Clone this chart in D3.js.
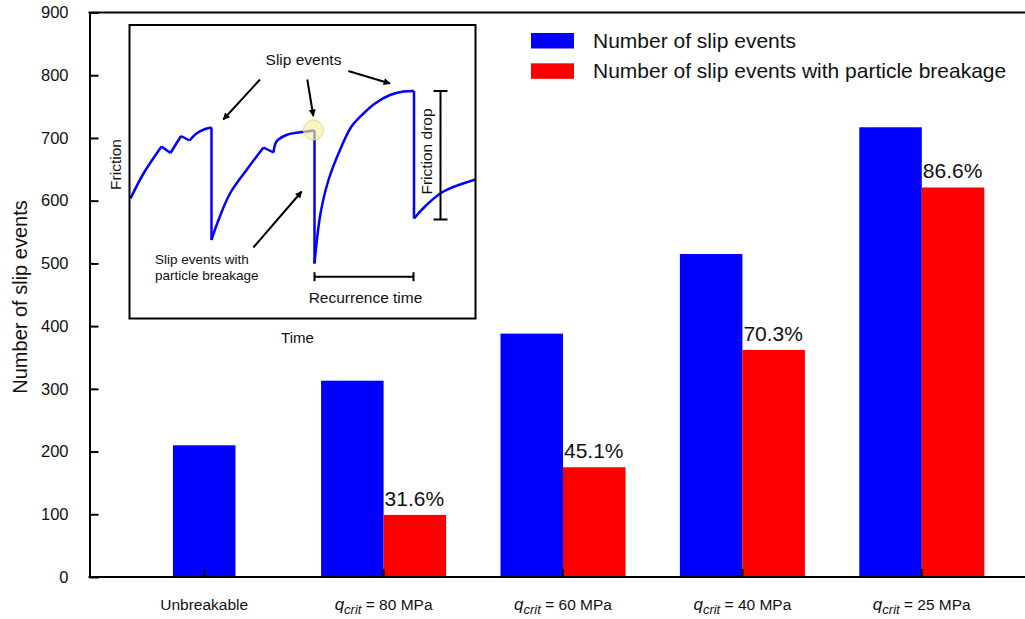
<!DOCTYPE html>
<html>
<head>
<meta charset="utf-8">
<script src="https://cdn.jsdelivr.net/npm/d3@7"></script>
<style>
  body { margin: 0; background: #fff; }
  svg { font-family: 'Liberation Sans', Arial, sans-serif; }
  text { fill: #111; }
</style>
</head>
<body>
<div id="chart"></div>
<script>
// categories + values
var categories = ['Unbreakable', '80', '60', '40', '25']
var slipEvents = [210, 313, 388, 515, 717]
var breakageEvents = [null, 99, 175, 362, 621]
var percentLabels = [null, '31.6%', '45.1%', '70.3%', '86.6%']
var yTicks = [0, 100, 200, 300, 400, 500, 600, 700, 800, 900]

// inset schematic (time, friction) in arbitrary units
var risePieces = [
  [[1, 120], [14, 145], [32, 172]],
  [[41, 165.5], [51.5, 182.5]],
  [[60, 178], [67, 185], [74.5, 189], [82, 191]],
  [[82, 78.5], [89, 98.5], [100.5, 125], [117, 148.5], [134, 171]],
  [[144, 166], [147, 177], [157, 183.5], [177, 187], [185, 188]],
  [[185, 55], [191, 105], [199, 138.5], [212, 172], [222, 192], [234, 205], [245.5, 215], [260.5, 223.5], [274, 227], [284.5, 227.5]],
  [[284.5, 100], [297, 113.5], [314, 127], [346, 139]]
]
var highlight = [184, 188.5]
var arrows = [
  [[130.5, 239], [93.8, 199]],
  [[177.8, 239], [183.8, 202.5]],
  [[218.8, 247.5], [260.5, 235]],
  [[123.8, 71], [172.2, 127]]
]
var frictionDrop = [311, 99, 227.5]      // t, fLow, fHigh
var recurrence = [41.8, 185, 284]        // f, tStart, tEnd

var svgWidth = 1025
var svgHeight = 619

var svg = d3.select('#chart')
  .append('svg')
  .attr('width', svgWidth)
  .attr('height', svgHeight)

// main scales
var axisLeftX = 89.5
var x = d3.scaleBand()
  .domain(categories)
  .range([114.5, 1011.5])
  .padding(0)

var y = d3.scaleLinear()
  .domain([0, 900])
  .range([577, 12.5])

var barWidth = 62.5

// blue bars
svg.append('g')
  .selectAll('rect')
  .data(categories)
  .enter()
  .append('rect')
  .attr('x', (d, i) => {
    var c = x(d) + x.bandwidth() / 2
    return breakageEvents[i] === null ? c - barWidth / 2 : c - barWidth
  })
  .attr('y', (d, i) => y(slipEvents[i]))
  .attr('width', barWidth)
  .attr('height', (d, i) => y(0) - y(slipEvents[i]))
  .attr('fill', '#0000ff')

// red bars
var redIdx = d3.range(categories.length).filter(i => breakageEvents[i] !== null)
svg.append('g')
  .selectAll('rect')
  .data(redIdx)
  .enter()
  .append('rect')
  .attr('x', i => x(categories[i]) + x.bandwidth() / 2)
  .attr('y', i => y(breakageEvents[i]))
  .attr('width', barWidth)
  .attr('height', i => y(0) - y(breakageEvents[i]))
  .attr('fill', '#ff0000')

// percentage labels
svg.append('g')
  .selectAll('text')
  .data(redIdx)
  .enter()
  .append('text')
  .attr('x', i => x(categories[i]) + x.bandwidth() / 2 + 1)
  .attr('y', i => y(breakageEvents[i]) - 9)
  .attr('font-size', '21px')
  .text(i => percentLabels[i])

// y axis
var yAxis = svg.append('g')
  .attr('transform', `translate(${axisLeftX},0)`)
  .call(d3.axisLeft(y).tickValues(yTicks).tickSizeInner(-9).tickSizeOuter(0).tickPadding(21))
yAxis.select('.domain').attr('stroke', '#000').attr('stroke-width', 2)
yAxis.selectAll('.tick line').attr('stroke', '#000').attr('stroke-width', 2)
yAxis.selectAll('.tick text')
  .attr('font-size', '16.5px')
  .attr('font-family', "'Liberation Sans', Arial, sans-serif")
  .attr('fill', '#111')

// x axis ticks (inward), labels drawn separately
var xAxis = svg.append('g')
  .attr('transform', `translate(0,${y(0)})`)
  .call(d3.axisBottom(x).tickSizeInner(-8).tickSizeOuter(0).tickFormat(''))
xAxis.select('.domain').remove()
xAxis.selectAll('.tick line').attr('stroke', '#000').attr('stroke-width', 2)

// frame lines: bottom and top
svg.append('line')
  .attr('x1', axisLeftX - 1).attr('x2', svgWidth)
  .attr('y1', y(0)).attr('y2', y(0))
  .attr('stroke', '#000').attr('stroke-width', 2)
svg.append('line')
  .attr('x1', axisLeftX - 1).attr('x2', svgWidth)
  .attr('y1', y(900)).attr('y2', y(900))
  .attr('stroke', '#000').attr('stroke-width', 2)

// x category labels
var xLabels = svg.append('g')
  .selectAll('text')
  .data(categories)
  .enter()
  .append('text')
  .attr('x', d => x(d) + x.bandwidth() / 2)
  .attr('y', 609.5)
  .attr('text-anchor', 'middle')
  .attr('font-size', '15.5px')
xLabels.each(function (d, i) {
  var t = d3.select(this)
  if (i === 0) {
    t.text(d)
    return
  }
  t.append('tspan').attr('font-style', 'italic').attr('font-size', '17px').text('q')
  t.append('tspan').attr('font-style', 'italic').attr('font-size', '13px').attr('dy', 4).text('crit')
  t.append('tspan').attr('dy', -4).text(` = ${d} MPa`)
})

// y axis title
svg.append('text')
  .attr('transform', 'translate(27,297) rotate(-90)')
  .attr('text-anchor', 'middle')
  .attr('font-size', '20px')
  .text('Number of slip events')

// legend
var legendItems = [
  { label: 'Number of slip events', color: '#0000ff' },
  { label: 'Number of slip events with particle breakage', color: '#ff0000' }
]
var legend = svg.append('g')
  .selectAll('g')
  .data(legendItems)
  .enter()
  .append('g')
  .attr('transform', (d, i) => `translate(531,${33 + i * 30.3})`)
legend.append('rect')
  .attr('width', 43)
  .attr('height', 15.5)
  .attr('fill', d => d.color)
legend.append('text')
  .attr('x', 62)
  .attr('y', 15)
  .attr('font-size', '21px')
  .text(d => d.label)

// ---- inset schematic ----
var box = { left: 129.5, top: 25, right: 475.5, bottom: 318.5 }
var tx = d3.scaleLinear().domain([0, 346]).range([box.left, box.right])
var fy = d3.scaleLinear().domain([0, 293.5]).range([box.bottom, box.top])

var defs = svg.append('defs')
defs.append('clipPath').attr('id', 'insetClip')
  .append('rect')
  .attr('x', box.left).attr('y', box.top)
  .attr('width', box.right - box.left).attr('height', box.bottom - box.top)
defs.append('marker')
  .attr('id', 'arrowHead')
  .attr('viewBox', '0 0 10 10')
  .attr('refX', 9).attr('refY', 5)
  .attr('markerWidth', 8).attr('markerHeight', 7)
  .attr('markerUnits', 'userSpaceOnUse')
  .attr('orient', 'auto')
  .append('path')
  .attr('d', 'M0,0 L10,5 L0,10 Z')
  .attr('fill', '#000')

var inset = svg.append('g')
inset.append('rect')
  .attr('x', box.left).attr('y', box.top)
  .attr('width', box.right - box.left).attr('height', box.bottom - box.top)
  .attr('fill', '#fff')

var curve = d3.line()
  .x(d => tx(d[0]))
  .y(d => fy(d[1]))
  .curve(d3.curveCatmullRom.alpha(0.5))
var straight = d3.line()
  .x(d => tx(d[0]))
  .y(d => fy(d[1]))

var traceG = inset.append('g').attr('clip-path', 'url(#insetClip)')
traceG.selectAll('path.rise')
  .data(risePieces)
  .enter()
  .append('path')
  .attr('class', 'rise')
  .attr('d', d => curve(d))
  .attr('fill', 'none')
  .attr('stroke', '#0000ff')
  .attr('stroke-width', 2.5)
// connecting drops between pieces
traceG.selectAll('path.drop')
  .data(risePieces.slice(1))
  .enter()
  .append('path')
  .attr('class', 'drop')
  .attr('d', (d, i) => straight([risePieces[i][risePieces[i].length - 1], d[0]]))
  .attr('fill', 'none')
  .attr('stroke', '#0000ff')
  .attr('stroke-width', 2.5)

inset.append('circle')
  .attr('cx', tx(highlight[0]))
  .attr('cy', fy(highlight[1]))
  .attr('r', 10)
  .attr('fill', '#f7ef9a')
  .attr('fill-opacity', 0.65)
  .attr('stroke', '#e6dc8c')
  .attr('stroke-width', 1)

inset.selectAll('path.arrow')
  .data(arrows)
  .enter()
  .append('path')
  .attr('class', 'arrow')
  .attr('d', d => straight(d))
  .attr('stroke', '#000')
  .attr('stroke-width', 2)
  .attr('marker-end', 'url(#arrowHead)')

// friction drop bar
var fd = inset.append('g').attr('stroke', '#000').attr('stroke-width', 2)
fd.append('line')
  .attr('x1', tx(frictionDrop[0])).attr('x2', tx(frictionDrop[0]))
  .attr('y1', fy(frictionDrop[1])).attr('y2', fy(frictionDrop[2]))
fd.selectAll('line.cap')
  .data([frictionDrop[1], frictionDrop[2]])
  .enter()
  .append('line')
  .attr('class', 'cap')
  .attr('x1', tx(frictionDrop[0]) - 7).attr('x2', tx(frictionDrop[0]) + 7)
  .attr('y1', d => fy(d)).attr('y2', d => fy(d))

// recurrence time bar
var rt = inset.append('g').attr('stroke', '#000').attr('stroke-width', 2)
rt.append('line')
  .attr('x1', tx(recurrence[1])).attr('x2', tx(recurrence[2]))
  .attr('y1', fy(recurrence[0])).attr('y2', fy(recurrence[0]))
rt.selectAll('line.cap')
  .data([recurrence[1], recurrence[2]])
  .enter()
  .append('line')
  .attr('class', 'cap')
  .attr('x1', d => tx(d)).attr('x2', d => tx(d))
  .attr('y1', fy(recurrence[0]) - 4.5).attr('y2', fy(recurrence[0]) + 4.5)

inset.append('rect')
  .attr('x', box.left).attr('y', box.top)
  .attr('width', box.right - box.left).attr('height', box.bottom - box.top)
  .attr('fill', 'none')
  .attr('stroke', '#000')
  .attr('stroke-width', 2)

// inset texts
inset.append('text')
  .attr('x', tx(174)).attr('y', fy(253.5))
  .attr('text-anchor', 'middle')
  .attr('font-size', '15.5px')
  .text('Slip events')
inset.append('text')
  .attr('transform', `translate(${box.left - 9},${fy(154)}) rotate(-90)`)
  .attr('text-anchor', 'middle')
  .attr('font-size', '15.5px')
  .text('Friction')
inset.append('text')
  .attr('x', tx(168)).attr('y', box.bottom + 24)
  .attr('text-anchor', 'middle')
  .attr('font-size', '15px')
  .text('Time')
inset.append('text')
  .attr('x', tx(236)).attr('y', fy(16))
  .attr('text-anchor', 'middle')
  .attr('font-size', '15.5px')
  .text('Recurrence time')
inset.append('text')
  .attr('transform', `translate(${tx(302.5)},${fy(167)}) rotate(-90)`)
  .attr('text-anchor', 'middle')
  .attr('font-size', '15.5px')
  .text('Friction drop')
var sb = inset.append('text')
  .attr('x', tx(25.5)).attr('y', fy(54.5))
  .attr('font-size', '13.5px')
sb.append('tspan').text('Slip events with')
sb.append('tspan').attr('x', tx(25.5)).attr('dy', 15.5).text('particle breakage')
</script>
</body>
</html>
